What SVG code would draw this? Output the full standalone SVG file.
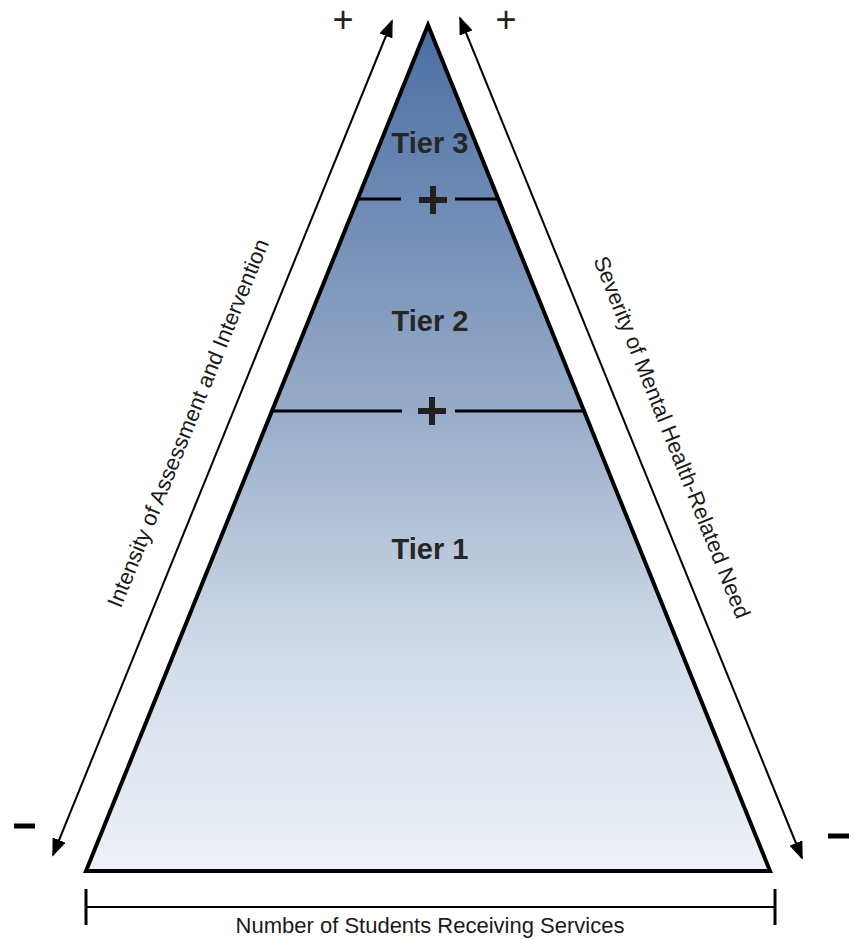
<svg xmlns="http://www.w3.org/2000/svg" width="856" height="939" viewBox="0 0 856 939">
<style>
.ln{stroke:#000;stroke-width:2;fill:none}
.tier{font-family:"Liberation Sans",Arial,sans-serif;font-weight:bold;font-size:29px;fill:#262626;text-anchor:middle}
.lbl{font-family:"Liberation Sans",Arial,sans-serif;font-size:22px;fill:#1a1a1a;text-anchor:middle}
.sym{font-family:"Liberation Sans",Arial,sans-serif;font-size:36px;fill:#222;text-anchor:middle}
.sep{stroke:#000;stroke-width:3}
.bplus{stroke:#231f20;stroke-width:6}
</style>
<defs>
<linearGradient id="g" x1="0" y1="25" x2="0" y2="871" gradientUnits="userSpaceOnUse">
<stop offset="0" stop-color="#4a6ea3"/>
<stop offset="0.45" stop-color="#97abc8"/>
<stop offset="0.75" stop-color="#d3dcea"/>
<stop offset="1" stop-color="#eef2f7"/>
</linearGradient>
<marker id="ah" viewBox="0 0 10 10" refX="9" refY="5" markerWidth="18" markerHeight="14" markerUnits="userSpaceOnUse" orient="auto-start-reverse" preserveAspectRatio="none">
<path d="M0,0 L10,5 L0,10 z" fill="#000"/>
</marker>
</defs>
<g id="pyramid">
<polygon points="428,25 86,871 770,871" fill="url(#g)" stroke="#000" stroke-width="4" stroke-linejoin="miter"/>
</g>
<g id="separators">
<line class="sep" x1="357" y1="199" x2="401" y2="199"/>
<line class="sep" x1="455" y1="199" x2="499" y2="199"/>
<line class="bplus" x1="419" y1="200" x2="447" y2="200"/>
<line class="bplus" x1="433" y1="186" x2="433" y2="214"/>
<line class="sep" x1="272" y1="411" x2="402" y2="411"/>
<line class="sep" x1="455" y1="411" x2="586" y2="411"/>
<line class="bplus" x1="418" y1="411" x2="446" y2="411"/>
<line class="bplus" x1="432" y1="397" x2="432" y2="425"/>
</g>
<g id="tier3"><text class="tier" x="430" y="153">Tier 3</text></g>
<g id="tier2"><text class="tier" x="430" y="331">Tier 2</text></g>
<g id="tier1"><text class="tier" x="430" y="559">Tier 1</text></g>
<g id="connectors">
<line class="ln" x1="53" y1="855" x2="392" y2="21" marker-start="url(#ah)" marker-end="url(#ah)"/>
<line class="ln" x1="460" y1="18" x2="802" y2="858" marker-start="url(#ah)" marker-end="url(#ah)"/>
<line x1="86" y1="907" x2="775" y2="907" stroke="#000" stroke-width="2"/>
<line x1="86" y1="889" x2="86" y2="925" stroke="#000" stroke-width="3"/>
<line x1="775" y1="889" x2="775" y2="925" stroke="#000" stroke-width="3"/>
</g>
<g id="labels">
<text class="sym" x="343" y="32">+</text>
<text class="sym" x="506" y="32">+</text>
<line x1="14" y1="826" x2="35" y2="826" stroke="#000" stroke-width="5"/>
<line x1="828" y1="836" x2="849" y2="836" stroke="#000" stroke-width="5"/>
<text class="lbl" transform="translate(195,426) rotate(-67.9)">Intensity of Assessment and Intervention</text>
<text class="lbl" transform="translate(665,440) rotate(68.3)">Severity of Mental Health-Related Need</text>
<text class="lbl" x="430" y="933">Number of Students Receiving Services</text>
</g>
</svg>
